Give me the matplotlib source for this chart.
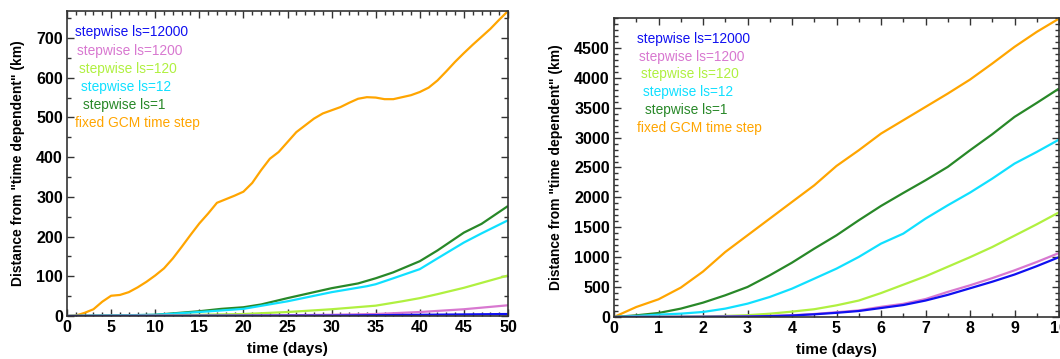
import matplotlib
matplotlib.use("Agg")
import matplotlib.pyplot as plt
from matplotlib.ticker import MultipleLocator

plt.rcParams['font.family'] = ['Liberation Sans', 'DejaVu Sans']

labels = ["stepwise ls=12000", "stepwise ls=1200", "stepwise ls=120",
          "stepwise ls=12", "stepwise ls=1", "fixed GCM time step"]
colors = ["#1010f0", "#d878d0", "#b0f040", "#10e0ff", "#288828", "#ffa500"]

# ---------- left panel (0-50 days) ----------
L_orange_t = list(range(0, 51))
L_orange = [0, 1, 8, 17, 36, 51, 53, 60, 72, 86, 102, 120, 145, 174, 204, 233,
            258, 285, 294, 303, 313, 335, 367, 396, 413, 438, 463, 480, 497,
            510, 518, 526, 537, 547, 551, 550, 546, 546, 551, 556, 564, 575,
            593, 616, 640, 662, 683, 703, 723, 746, 768]
L_green_t = [0, 5, 10, 15, 17.5, 20, 22, 25, 30, 33, 35, 37, 40, 42, 44, 45, 47, 50]
L_green = [0, 1, 3, 12, 18, 22, 29, 45, 70, 82, 95, 110, 138, 165, 195, 210, 232, 277]
L_cyan_t = [0, 10, 15, 20, 25, 30, 34, 35, 37, 40, 42, 45, 47, 50]
L_cyan = [0, 3, 10, 18, 37, 60, 75, 80, 95, 118, 145, 185, 208, 241]
L_lgreen_t = [0, 10, 20, 25, 30, 35, 38, 40, 42, 45, 50]
L_lgreen = [0, 1, 5, 10, 17, 26, 37, 45, 55, 71, 102]
L_pink_t = [0, 20, 30, 35, 40, 45, 50]
L_pink = [0, 1, 3, 5, 10, 17, 27]
L_blue_t = [0, 30, 40, 50]
L_blue = [0, 1, 3, 5]

# ---------- right panel (0-10 days) ----------
R_t = [0, 0.5, 1, 1.5, 2, 2.5, 3, 3.5, 4, 4.5, 5, 5.5, 6, 6.5, 7, 7.5, 8, 8.5, 9, 9.5, 10]
R_orange = [0, 167, 296, 491, 760, 1087, 1366, 1645, 1924, 2202, 2526, 2788,
            3067, 3290, 3513, 3736, 3970, 4238, 4517, 4768, 4990]
R_green = [0, 28, 67, 140, 240, 363, 502, 697, 909, 1143, 1366, 1617, 1857,
           2074, 2286, 2510, 2788, 3056, 3346, 3580, 3820]
R_cyan = [0, 17, 39, 56, 84, 140, 223, 335, 474, 641, 809, 1004, 1227, 1394,
          1645, 1868, 2080, 2314, 2565, 2760, 2966]
R_lgreen = [0, 1, 3, 6, 10, 18, 30, 55, 90, 130, 195, 275, 400, 540, 680, 840,
            1000, 1170, 1360, 1550, 1750]
R_pink = [0, 1, 2, 3, 5, 7, 10, 18, 30, 50, 80, 110, 170, 220, 300, 420, 530,
          650, 780, 920, 1070]
R_blue = [0, 1, 1, 2, 3, 5, 8, 14, 25, 45, 70, 100, 150, 200, 275, 370, 480,
          590, 710, 850, 1000]

fig = plt.figure(figsize=(10.6, 3.59), dpi=100)
axL = fig.add_axes([67/1060, 1-316/359, (508-67)/1060, (316-11)/359])
axR = fig.add_axes([614/1060, 1-317/359, (1059-614)/1060, (317-18)/359])

lw = 1.6
left_series = [(L_blue_t, L_blue), (L_pink_t, L_pink), (L_lgreen_t, L_lgreen),
               (L_cyan_t, L_cyan), (L_green_t, L_green), (L_orange_t, L_orange)]
right_series = [R_blue, R_pink, R_lgreen, R_cyan, R_green, R_orange]

for i in reversed(range(6)):
    t, v = left_series[i]
    axL.plot(t, v, color=colors[i], lw=lw, solid_capstyle='butt')
    axR.plot(R_t, right_series[i], color=colors[i], lw=lw, solid_capstyle='butt')

axL.set_xlim(0, 50)
axL.set_ylim(0, 768)
axL.xaxis.set_major_locator(MultipleLocator(5))
axL.xaxis.set_minor_locator(MultipleLocator(1))
axL.yaxis.set_major_locator(MultipleLocator(100))
axL.yaxis.set_minor_locator(MultipleLocator(50))

axR.set_xlim(0, 10)
axR.set_ylim(0, 5000)
axR.set_xticks(range(0, 11))
axR.xaxis.set_minor_locator(MultipleLocator(0.5))
axR.set_yticks(range(0, 5000, 500))
axR.yaxis.set_minor_locator(MultipleLocator(100))

for ax in (axL, axR):
    ax.tick_params(which='both', direction='in', top=True, right=True,
                   labelsize=11.5, width=1.0, color='#333333')
    ax.tick_params(which='major', length=5, pad=3)
    ax.tick_params(which='minor', length=3)
    for lab in ax.get_xticklabels() + ax.get_yticklabels():
        lab.set_fontweight('bold')
    for s in ax.spines.values():
        s.set_linewidth(1.2)
        s.set_color('#333333')
    ax.set_xlabel('time (days)', fontsize=11, fontweight='bold', labelpad=5)
    ax.set_ylabel('Distance from "time dependent" (km)', fontsize=10,
                  fontweight='bold', labelpad=8)

# in-plot legend texts (coloured labels)
left_pos = [(75, 32), (77, 51), (79, 69), (81, 87), (83, 105), (75, 123)]
right_pos = [(637, 39), (639, 57), (641, 74), (643, 92), (645, 110), (637, 128)]
for i in range(6):
    x, y = left_pos[i]
    fig.text(x/1060, 1-y/359, labels[i], color=colors[i], fontsize=9.9,
             ha='left', va='center')
    x, y = right_pos[i]
    fig.text(x/1060, 1-y/359, labels[i], color=colors[i], fontsize=9.9,
             ha='left', va='center')

fig.savefig('out.png', dpi=100)
